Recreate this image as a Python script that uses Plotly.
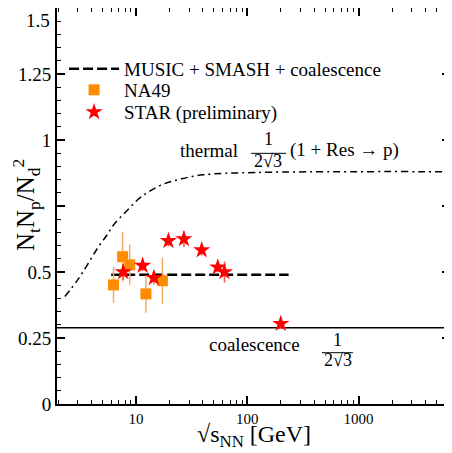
import plotly.graph_objects as go

# ---------------- data ----------------
NA49_E = [6.3, 7.6, 8.8, 12.3, 17.3]
NA49_R = [0.451, 0.558, 0.527, 0.417, 0.467]
NA49_ERR = [0.068, 0.095, 0.077, 0.071, 0.087]

STAR_E = [7.7, 11.5, 14.5, 19.6, 27, 39, 54.4, 62.4, 200]
STAR_R = [0.50, 0.524, 0.478, 0.618, 0.625, 0.583, 0.518, 0.50, 0.304]
STAR_ERR = [0.03, 0.02, 0.025, 0.02, 0.03, 0.02, 0.02, 0.04, 0.02]

MODEL_E = [6.0, 7.7, 11.5, 19.6, 39, 62.4, 200, 235]
MODEL_R = [0.49, 0.49, 0.49, 0.49, 0.49, 0.49, 0.49, 0.49]

THERMAL_E = [2.3, 3.0, 3.7, 4.6, 5.5, 6.3, 8.3, 11.2, 17.0, 25.7, 40, 120, 6600]
THERMAL_R = [0.407, 0.47, 0.53, 0.595, 0.64, 0.678, 0.732, 0.785, 0.83, 0.853, 0.868, 0.877, 0.88]

COAL_E = [1.9, 6700]
COAL_R = [0.2887, 0.2887]

X_TICKS = [10, 100, 1000]
X_TICKTEXT = ["10", "100", "1000"]
Y_TICKS = [0, 0.25, 0.5, 0.75, 1, 1.25, 1.5]
Y_TICKTEXT = ["0", "0.25", "0.5", "", "1", "1.25", ""]

FONT = "Liberation Serif"

fig = go.Figure()

fig.add_trace(go.Scatter(x=COAL_E, y=COAL_R, mode="lines",
                         line=dict(color="black", width=1.5), showlegend=False))
fig.add_trace(go.Scatter(x=THERMAL_E, y=THERMAL_R, mode="lines",
                         line=dict(color="black", width=1.5, dash="7px,4px,2px,4px", shape="spline"),
                         showlegend=False))
fig.add_trace(go.Scatter(x=MODEL_E, y=MODEL_R, mode="lines", name="MUSIC + SMASH + coalescence",
                         line=dict(color="black", width=2.5, dash="10px,4px"), legend="legend"))
fig.add_trace(go.Scatter(x=NA49_E, y=NA49_R, mode="markers", name="NA49",
                         marker=dict(symbol="square", size=11, color="#ff8c00"),
                         error_y=dict(type="data", array=NA49_ERR, color="#f8a860", thickness=1.5, width=0),
                         legend="legend2"))
fig.add_trace(go.Scatter(x=STAR_E, y=STAR_R, mode="markers", name="STAR (preliminary)",
                         marker=dict(symbol="star", size=13, color="#ff0000"),
                         error_y=dict(type="data", array=STAR_ERR, color="#ff5050", thickness=1.5, width=0),
                         legend="legend3"))

minor_x = [m * d for d in [1, 10, 100, 1000] for m in range(2, 10) if m * d < 7000]

leg_common = dict(x=0.018, xanchor="left", yanchor="middle", bgcolor="rgba(0,0,0,0)",
                  font=dict(size=19, family=FONT), itemwidth=50)

# page body has an 8px margin: figure is 444x445 so the plot lands where the reference has it
fig.update_layout(
    width=444, height=445,
    margin=dict(l=49, r=2, t=0, b=49),
    plot_bgcolor="white", paper_bgcolor="white",
    font=dict(family=FONT, color="black", size=19),
    legend=dict(y=0.846, **leg_common),
    legend2=dict(y=0.793, **leg_common),
    legend3=dict(y=0.737, **leg_common),
    xaxis=dict(type="log", range=[0.2915, 3.8206], tickvals=X_TICKS, ticktext=X_TICKTEXT,
               ticks="inside", ticklen=8, tickwidth=1.5, tickcolor="black",
               showline=True, linecolor="black", linewidth=2, mirror="ticks",
               showgrid=False, zeroline=False, tickfont=dict(size=15, family=FONT),
               automargin=False,
               minor=dict(tickvals=minor_x, ticks="inside", ticklen=4, tickwidth=1, tickcolor="black")),
    yaxis=dict(range=[0, 1.5], tickvals=Y_TICKS, ticktext=Y_TICKTEXT,
               ticks="inside", ticklen=8, tickwidth=1.5, tickcolor="black",
               showline=True, linecolor="black", linewidth=2, mirror="ticks",
               showgrid=False, zeroline=False, tickfont=dict(size=19, family=FONT),
               automargin=False,
               minor=dict(dtick=0.05, tick0=0, ticks="inside", ticklen=4, tickwidth=1, tickcolor="black")),
)

ann = [
    dict(text="N<sub>t</sub>N<sub>p</sub>/N<sub>d</sub><sup>2</sup>", x=-0.079, y=0.5025,
         xanchor="center", textangle=-90, font=dict(size=25, family=FONT)),
    dict(text="√s<sub>NN</sub> [GeV]", x=0.5, y=-0.082, xanchor="center",
         font=dict(size=24, family=FONT)),
    dict(text="1.5", x=0, y=1.0, xanchor="right", yanchor="top", xshift=-5),
    dict(text="thermal", x=0.308, y=0.641, xanchor="left"),
    dict(text="1", x=0.537, y=0.669, xanchor="center", font=dict(size=18, family=FONT)),
    dict(text="2√3", x=0.537, y=0.614, xanchor="center", font=dict(size=18, family=FONT)),
    dict(text="(1 + Res → p)", x=0.588, y=0.641, xanchor="left"),
    dict(text="coalescence", x=0.382, y=0.149, xanchor="left"),
    dict(text="1", x=0.7125, y=0.162, xanchor="center", font=dict(size=18, family=FONT)),
    dict(text="2√3", x=0.715, y=0.112, xanchor="center", font=dict(size=18, family=FONT)),
]
for a in ann:
    a.setdefault("font", dict(size=19, family=FONT))
    a.setdefault("yanchor", "middle")
    fig.add_annotation(xref="paper", yref="paper", showarrow=False, **a)

fig.add_shape(type="line", xref="paper", yref="paper", x0=0.494, x1=0.583, y0=0.633, y1=0.633,
              line=dict(color="black", width=1))
fig.add_shape(type="line", xref="paper", yref="paper", x0=0.674, x1=0.753, y0=0.1295, y1=0.1295,
              line=dict(color="black", width=1))

fig.write_html("out.html")
